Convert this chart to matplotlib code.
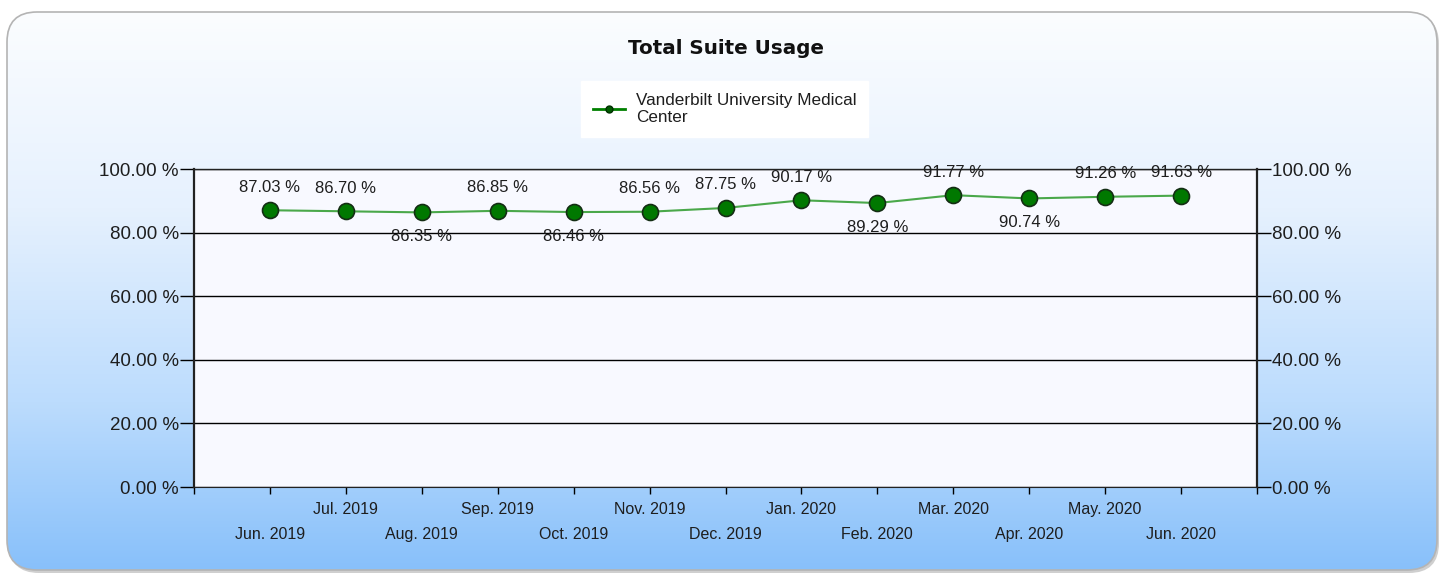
import numpy as np
import matplotlib
matplotlib.use('Agg')
import matplotlib.pyplot as plt
from matplotlib.patches import FancyBboxPatch
from matplotlib.colors import LinearSegmentedColormap

months = ['Jun. 2019', 'Jul. 2019', 'Aug. 2019', 'Sep. 2019', 'Oct. 2019',
          'Nov. 2019', 'Dec. 2019', 'Jan. 2020', 'Feb. 2020', 'Mar. 2020',
          'Apr. 2020', 'May. 2020', 'Jun. 2020']
usage = [87.03, 86.70, 86.35, 86.85, 86.46, 86.56, 87.75, 90.17, 89.29,
         91.77, 90.74, 91.26, 91.63]
# which labels the original put under the point
below = [2, 4, 8, 10]
series_name = 'Vanderbilt University Medical\nCenter'

W, H = 1440, 573
fig = plt.figure(figsize=(W / 100, H / 100), dpi=100)
fig.patch.set_facecolor('white')
plt.rcParams['font.family'] = ['Liberation Sans', 'DejaVu Sans']
txt = '#1e1e1e'

# background panel with gradient, rounded corners
bg = fig.add_axes([0, 0, 1, 1])
bg.set_xlim(0, W)
bg.set_ylim(H, 0)
bg.axis('off')
shadow = FancyBboxPatch((9, 14), 1430, 559, boxstyle='round,pad=0,rounding_size=30',
                        facecolor='#cfcfcf', edgecolor='none', zorder=0)
bg.add_patch(shadow)
panel = FancyBboxPatch((7, 12), 1430, 558, boxstyle='round,pad=0,rounding_size=30',
                       facecolor='none', edgecolor='#b4b4b4', linewidth=1.2, zorder=2)
bg.add_patch(panel)
cmap = LinearSegmentedColormap.from_list('bg', [(0, '#fbfdff'), (0.35, '#e6f1fe'),
                                                (0.7, '#bcdcfd'), (1, '#88c0fa')])
grad = np.linspace(0, 1, 256).reshape(-1, 1)
im = bg.imshow(grad, cmap=cmap, extent=(7, 1437, 570, 12), aspect='auto', zorder=1)
im.set_clip_path(panel)

# title
fig.text(726 / W, 1 - 48 / H, 'Total Suite Usage', ha='center', va='center',
         fontsize=14.3, fontweight='bold', family='DejaVu Sans', color='#111111')

ax = fig.add_axes([194 / W, 1 - 487 / H, (1257 - 194) / W, (487 - 169) / H])
ax.set_facecolor('#f8f9ff')
x = np.arange(len(months))

ax.plot(x, usage, color='#4aa84a', linewidth=1.5, zorder=3)
ax.plot(x, usage, linestyle='none', marker='o', markersize=11.5,
        markerfacecolor='#007800', markeredgecolor='#142e14', markeredgewidth=1.2, zorder=4)

for i, v in enumerate(usage):
    dy = -24 if i in below else 23
    ax.annotate(f'{v:.2f} %', (i, v), xytext=(0, dy), textcoords='offset pixels',
                ha='center', va='center', fontsize=12, color=txt, zorder=5)

ax.set_xlim(-1, len(months))
ax.set_ylim(0, 100)
yt = np.arange(0, 101, 20)
ax.set_yticks(yt)
ax.set_yticklabels([f'{t:.2f} %' for t in yt])
ax.grid(axis='y', color='black', linewidth=1)
ax.set_axisbelow(True)

ax.set_xticks(np.arange(-1, len(months) + 1))
xl = ['']
for i, m in enumerate(months):
    xl.append(m if i % 2 else '\n' + m)
xl.append('')
ax.set_xticklabels(xl)
for lab in ax.get_xticklabels():
    lab.set_linespacing(1.8)

ax.tick_params(axis='x', length=5, width=1, pad=6, labelsize=11.5, labelcolor=txt)
ax.tick_params(axis='y', length=10, width=1, pad=1, labelsize=13.5, labelcolor=txt,
               left=True, right=True, labelright=True)
for side in ['left', 'right', 'bottom', 'top']:
    ax.spines[side].set_color('#222222')
ax.spines['left'].set_linewidth(1.6)
ax.spines['right'].set_linewidth(1.6)
ax.spines['top'].set_linewidth(1.0)

# legend box
handle, = ax.plot([], [], color='#008000', linewidth=2, marker='o', markersize=5,
                  markerfacecolor='#005a00', markeredgecolor='#003000')
leg = fig.legend([handle], [series_name], loc='upper left',
                 bbox_to_anchor=(581 / W, 1 - 81 / H), frameon=True, fancybox=False,
                 fontsize=12.3, handlelength=1.9, borderpad=0.7, handletextpad=0.6,
                 borderaxespad=0)
leg.get_frame().set_facecolor('white')
leg.get_frame().set_edgecolor('white')
leg.get_frame().set_alpha(1)
for t in leg.get_texts():
    t.set_color(txt)
    t.set_linespacing(1.15)

fig.savefig('out.png', dpi=100)
